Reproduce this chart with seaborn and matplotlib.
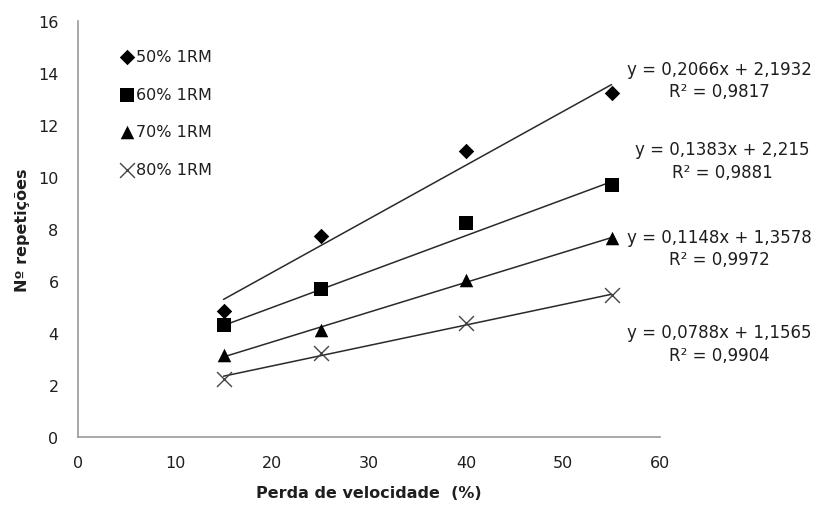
import numpy as np
import pandas as pd
import matplotlib
matplotlib.use("Agg")
import matplotlib.pyplot as plt
import seaborn as sns

# dados
perda = [15, 25, 40, 55]
grupos = ["50% 1RM", "60% 1RM", "70% 1RM", "80% 1RM"]
rep_50 = [4.85, 7.75, 11.0, 13.25]
rep_60 = [4.3, 5.7, 8.25, 9.7]
rep_70 = [3.15, 4.1, 6.05, 7.65]
rep_80 = [2.25, 3.25, 4.4, 5.45]

# equações de tendência (lineares)
inclinacao = [0.2066, 0.1383, 0.1148, 0.0788]
intercepto = [2.1932, 2.215, 1.3578, 1.1565]
equacoes = ["y = 0,2066x + 2,1932", "y = 0,1383x + 2,215",
            "y = 0,1148x + 1,3578", "y = 0,0788x + 1,1565"]
r2 = ["R² = 0,9817", "R² = 0,9881", "R² = 0,9972", "R² = 0,9904"]

marcadores = {"50% 1RM": "D", "60% 1RM": "s", "70% 1RM": "^", "80% 1RM": "x"}
tamanhos = {"50% 1RM": 62, "60% 1RM": 88, "70% 1RM": 95, "80% 1RM": 115}

sns.set_style("white")
plt.rcParams['font.family'] = ['DejaVu Sans']
texto_cor = '#1e1e1e'

df = pd.DataFrame({
    'Perda': perda * 4,
    'Rep': rep_50 + rep_60 + rep_70 + rep_80,
    'Grupo': np.repeat(grupos, len(perda)),
})

fig = plt.figure(figsize=(8.16, 5.06), dpi=100)
ax = fig.add_axes([0.0956, 0.1344, 0.7133, 0.822])

# linhas de tendência
linhas = []
for g, a, b in zip(grupos, inclinacao, intercepto):
    for x in (15, 55):
        linhas.append({'Perda': x, 'Rep': a * x + b, 'Grupo': g})
df_lin = pd.DataFrame(linhas)
sns.lineplot(data=df_lin, x='Perda', y='Rep', units='Grupo', estimator=None,
             color='#2a2a2a', linewidth=1.1, ax=ax, legend=False)

# pontos
for g in grupos:
    sub = df[df['Grupo'] == g]
    m = marcadores[g]
    if m == 'x':
        sns.scatterplot(data=sub, x='Perda', y='Rep', marker='x', s=tamanhos[g],
                        color='#444444', linewidth=1.0, ax=ax, label=g, zorder=3)
    else:
        sns.scatterplot(data=sub, x='Perda', y='Rep', marker=m, s=tamanhos[g],
                        color='black', edgecolor='black', linewidth=0, ax=ax,
                        label=g, zorder=3)

ax.set_xlim(0, 60)
ax.set_ylim(0, 16)
ax.set_xticks(range(0, 61, 10))
ax.set_yticks(range(0, 17, 2))
ax.tick_params(axis='both', length=0, labelsize=11.5, colors=texto_cor)
ax.tick_params(axis='y', pad=14)
ax.tick_params(axis='x', pad=13)

for s in ['top', 'right']:
    ax.spines[s].set_visible(False)
for s in ['left', 'bottom']:
    ax.spines[s].set_color('#999999')
    ax.spines[s].set_linewidth(1.2)

ax.set_xlabel('Perda de velocidade  (%)', fontsize=11.5, fontweight='bold',
              color=texto_cor, labelpad=11)
ax.set_ylabel('Nº repetições', fontsize=11.5, fontweight='bold',
              color=texto_cor, labelpad=6)

leg = ax.legend(loc='upper left', bbox_to_anchor=(0.056, 0.948), frameon=False,
                fontsize=11.5, labelspacing=1.42, handletextpad=0.0,
                handlelength=1.2, borderaxespad=0, markerscale=1.0)
for t in leg.get_texts():
    t.set_color(texto_cor)

# rótulos das equações
pos_eq = [(0.8811, 0.840), (0.8848, 0.680), (0.8811, 0.508), (0.8811, 0.320)]
for (xf, yf), eq, r in zip(pos_eq, equacoes, r2):
    fig.text(xf, yf, eq + "\n" + r, ha='center', va='center', fontsize=12,
             color=texto_cor, linespacing=1.35, multialignment='center')

fig.savefig('out.png', dpi=100)
